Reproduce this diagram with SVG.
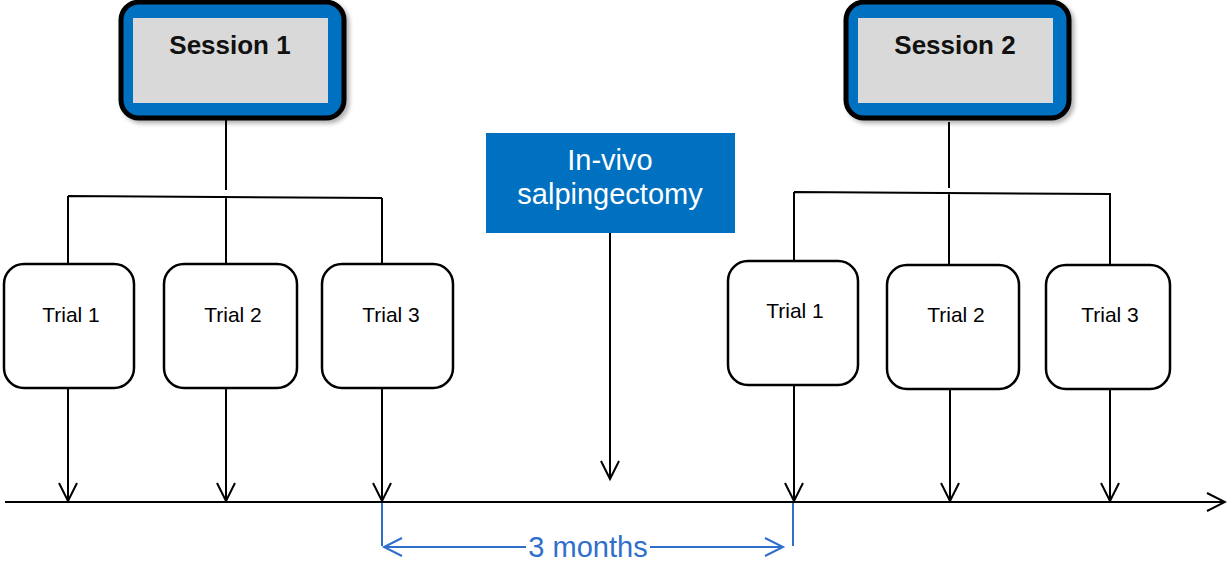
<svg xmlns="http://www.w3.org/2000/svg" width="1227" height="562" viewBox="0 0 1227 562">
<style>
.ln{stroke:#000;stroke-width:2;fill:none}
.trial{fill:#fff;stroke:#000;stroke-width:2.5}
.tt{font-family:"Liberation Sans",Arial,sans-serif;font-size:21px;fill:#000;text-anchor:middle}
.st{font-family:"Liberation Sans",Arial,sans-serif;font-size:26px;font-weight:bold;fill:#111;text-anchor:middle}
.bl{stroke:#2F6FCC;stroke-width:2;fill:none}
</style>
<defs>
<marker id="ah" markerWidth="22" markerHeight="22" viewBox="0 0 22 22" refX="19" refY="11" orient="auto" markerUnits="userSpaceOnUse">
<path d="M1,2 L19,11 L1,20" fill="none" stroke="#000" stroke-width="2"/>
</marker>
<marker id="bh" markerWidth="22" markerHeight="22" viewBox="0 0 22 22" refX="19" refY="11" orient="auto" markerUnits="userSpaceOnUse">
<path d="M1,2 L19,11 L1,20" fill="none" stroke="#2F6FCC" stroke-width="2"/>
</marker>
<filter id="sh" x="-10%" y="-10%" width="130%" height="130%">
<feDropShadow dx="3" dy="3" stdDeviation="2" flood-color="#000" flood-opacity="0.3"/>
</filter>
</defs>

<g id="connectors">
<path class="ln" d="M226,120 V190 M68,196 L382,198 M68,196 V263 M226,196 V263 M382,198 V263"/>
<path class="ln" d="M949,122 V188 M794,192 L1111,194 M794,192 V261 M949,193 V265 M1110,194 V265"/>
<line class="ln" x1="68" y1="388" x2="68" y2="501" marker-end="url(#ah)"/>
<line class="ln" x1="226" y1="388" x2="226" y2="501" marker-end="url(#ah)"/>
<line class="ln" x1="382" y1="388" x2="382" y2="501" marker-end="url(#ah)"/>
<line class="ln" x1="610" y1="233" x2="610" y2="479" marker-end="url(#ah)"/>
<line class="ln" x1="794" y1="385" x2="794" y2="501" marker-end="url(#ah)"/>
<line class="ln" x1="950" y1="389" x2="950" y2="501" marker-end="url(#ah)"/>
<line class="ln" x1="1110" y1="389" x2="1110" y2="501" marker-end="url(#ah)"/>
<line class="ln" x1="5" y1="502" x2="1225" y2="502" marker-end="url(#ah)"/>
</g>

<g id="session1">
<rect x="121" y="2" width="223" height="116" rx="18" fill="#0070C0" stroke="#000" stroke-width="5" filter="url(#sh)"/>
<rect x="133" y="18" width="195" height="85" fill="#D9D9D9"/>
<text class="st" x="230" y="54">Session 1</text>
</g>
<g id="session2">
<rect x="846" y="2" width="223" height="116" rx="18" fill="#0070C0" stroke="#000" stroke-width="5" filter="url(#sh)"/>
<rect x="858" y="18" width="195" height="85" fill="#D9D9D9"/>
<text class="st" x="955" y="54">Session 2</text>
</g>

<g id="s1-trial1"><rect class="trial" x="4" y="264" width="130" height="124" rx="20"/><text class="tt" x="71" y="322">Trial 1</text></g>
<g id="s1-trial2"><rect class="trial" x="164" y="264" width="133" height="124" rx="20"/><text class="tt" x="233" y="322">Trial 2</text></g>
<g id="s1-trial3"><rect class="trial" x="322" y="264" width="131" height="124" rx="20"/><text class="tt" x="391" y="322">Trial 3</text></g>

<g id="salpingectomy">
<rect x="486" y="133" width="249" height="100" fill="#0070C0"/>
<text x="610" y="170" font-family="Liberation Sans, Arial, sans-serif" font-size="29" fill="#fff" text-anchor="middle">In-vivo</text>
<text x="610" y="204" font-family="Liberation Sans, Arial, sans-serif" font-size="29" fill="#fff" text-anchor="middle">salpingectomy</text>
</g>

<g id="s2-trial1"><rect class="trial" x="728" y="261" width="130" height="124" rx="20"/><text class="tt" x="795" y="318">Trial 1</text></g>
<g id="s2-trial2"><rect class="trial" x="887" y="265" width="132" height="124" rx="20"/><text class="tt" x="956" y="322">Trial 2</text></g>
<g id="s2-trial3"><rect class="trial" x="1046" y="265" width="124" height="124" rx="20"/><text class="tt" x="1110" y="322">Trial 3</text></g>

<g id="duration">
<path class="bl" d="M382,503 V546 M793,503 V546"/>
<line class="bl" x1="526" y1="547" x2="384" y2="547" marker-end="url(#bh)"/>
<line class="bl" x1="650" y1="547" x2="783" y2="547" marker-end="url(#bh)"/>
<text x="588" y="557" font-family="Liberation Sans, Arial, sans-serif" font-size="29" fill="#2F6FCC" text-anchor="middle">3 months</text>
</g>
</svg>
